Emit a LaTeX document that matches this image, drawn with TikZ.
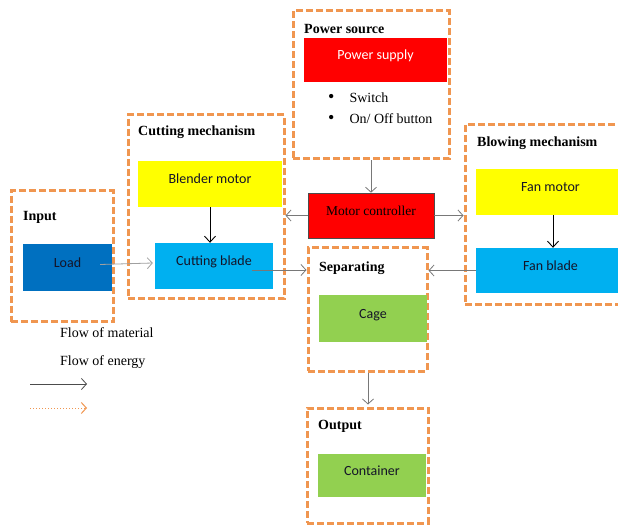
\documentclass[tikz,border=0pt]{standalone}
\usepackage{fontspec}
\setmainfont{Liberation Serif}
\newfontfamily\calibri{Carlito}
\usetikzlibrary{arrows.meta,calc}
\definecolor{dashor}{RGB}{240,150,80}
\definecolor{redbox}{RGB}{255,0,0}
\definecolor{yelbox}{RGB}{255,255,0}
\definecolor{darkblue}{RGB}{0,112,192}
\definecolor{lightblue}{RGB}{0,176,240}
\definecolor{greenbox}{RGB}{146,208,80}
\definecolor{conngray}{RGB}{120,120,120}
\definecolor{txtdark}{RGB}{20,20,40}
\begin{document}
\begin{tikzpicture}[x=1pt,y=-1pt,
  group/.style 2 args={draw=dashor, line width=3pt, dash pattern=on 7pt off 3pt,
    inner sep=0pt, minimum width=#1pt, minimum height=#2pt},
  fillbox/.style 2 args={inner sep=0pt, minimum width=#1pt, minimum height=#2pt,
    font=\calibri\fontsize{14}{16}\selectfont, text=txtdark, text height=8pt, text depth=8pt},
  lab/.style={anchor=west, inner sep=0pt, font=\bfseries\fontsize{14}{16}\selectfont},
  plain/.style={anchor=west, inner sep=0pt, font=\fontsize{14}{16}\selectfont},
  conn/.style={draw=conngray, line width=0.8pt, -{Straight Barb[length=5pt,width=11pt]}},
  blackconn/.style={draw=black, line width=0.9pt, -{Straight Barb[length=6pt,width=11pt]}},
  energy/.style={draw=dashor, line width=1pt, dotted, -{Straight Barb[length=5pt,width=11pt]}}
]
\useasboundingbox (0,0) rectangle (618,526);

% dashed groups
\node[group={156}{148}] (psrc) at (371,85) {};
\node[group={160}{180}] (blow) at (545,215) {};
\node[group={119}{123}] (sep) at (367.5,309.5) {};
\node[group={121}{115}] (outp) at (367.5,465.5) {};
\node[group={156}{184}] (cut) at (206,207) {};
\node[group={102}{131}] (inp) at (62,256.5) {};

% filled boxes
\node[fillbox={143}{44}, fill=redbox, text=white] (psup) at (375.5,60) {Power supply};
\node[fillbox={126}{45}, fill=redbox, draw=black!70, line width=0.6pt,
      font=\fontsize{13.5}{15}\selectfont, text=black] (mc) at (371,215.5) {Motor controller};
\node[fillbox={149}{46}, fill=yelbox] (fmot) at (550.5,192) {Fan motor};
\node[fillbox={149}{45}, fill=lightblue] (fbl) at (550.5,270.5) {Fan blade};
\node[fillbox={108}{47}, fill=greenbox] (cage) at (373,318.5) {Cage};
\node[fillbox={108}{43}, fill=greenbox] (cont) at (372,475.5) {Container};
\node[fillbox={144}{46}, fill=yelbox] (bmot) at (210,184) {Blender motor};
\node[fillbox={118}{46}, fill=lightblue] (cbl) at (214,266) {Cutting blade};
\node[fillbox={89}{47}, fill=darkblue] (load) at (67.5,267.5) {Load};

% group labels
\node[lab] (lpsrc) at (304,29) {Power source};
\node[lab] (lblow) at (477,143) {Blowing mechanism};
\node[lab] (lsep) at (319,268) {Separating};
\node[lab] (lout) at (318,426) {Output};
\node[lab] (lcut) at (138,132) {Cutting mechanism};
\node[lab] (linp) at (23,217) {Input};

% bullets
\node[plain] (b1) at (328,98) {{\fontsize{18}{16}\selectfont •}\hspace{15pt}Switch};
\node[plain] (b2) at (328,119) {{\fontsize{18}{16}\selectfont •}\hspace{15pt}On/ Off button};

% connectors
\draw[conn] (psrc.south) -- (mc.north);
\draw[conn] (mc.west) -- (cut.east |- mc.west);
\draw[conn] (mc.east) -- (blow.west |- mc.east);
\draw[blackconn] (bmot.south) -- (cbl.north -| bmot.south);
\draw[blackconn] (fmot.south -| 553,0) -- (fbl.north -| 553,0);
\draw[conn, draw=conngray!70] ($(load.east)+(-12,-3)$) -- ($(cbl.west)+(-2,-3)$);
\draw[conn] ($(cbl.east)+(-21,4)$) -- (sep.west |- 0,270);
\draw[conn] (fbl.west) -- (sep.east |- fbl.west);
\draw[conn] (sep.south -| 368,0) -- ($(outp.north -| 368,0)+(0,-2)$);

% legend
\node[plain] (lmat) at (60,333) {Flow of material};
\node[plain] (len) at (60,362) {Flow of energy};
\coordinate (la1) at (30,384);
\coordinate (la2) at (87,384);
\coordinate (le1) at (30,408);
\coordinate (le2) at (87,408);
\draw[conn, draw=black!70] (la1) -- (la2);
\draw[energy] (le1) -- (le2);
\end{tikzpicture}
\end{document}
